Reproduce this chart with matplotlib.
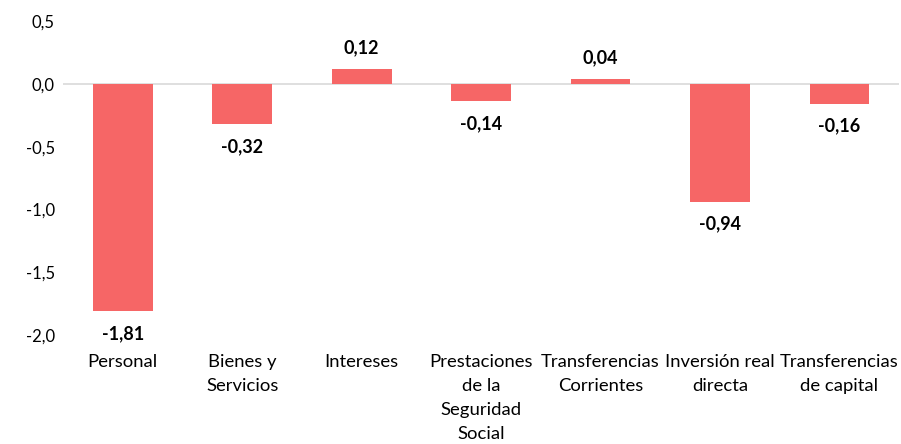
import matplotlib.pyplot as plt

categorias = ["Personal", "Bienes y\nServicios", "Intereses", "Prestaciones\nde la\nSeguridad\nSocial",
              "Transferencias\nCorrientes", "Inversión real\ndirecta", "Transferencias\nde capital"]
valores = [-1.81, -0.32, 0.12, -0.14, 0.04, -0.94, -0.16]
ticks_y = [0.5, 0.0, -0.5, -1.0, -1.5, -2.0]

plt.rcParams['font.family'] = ['Lato', 'DejaVu Sans']

fig = plt.figure(figsize=(9.01, 4.44), dpi=100)
ax = fig.add_axes([0.07, 0.2455, 0.928, 0.707])

x = range(len(categorias))
ax.bar(x, valores, width=0.5, color='#F66666', zorder=2)
ax.axhline(0, color='#D9D9D9', lw=1.2, zorder=1)

for i, v in zip(x, valores):
    txt = f"{v:.2f}".replace('.', ',')
    off = 15 if v >= 0 else -16
    ax.annotate(txt, (i, v), xytext=(0, off), textcoords='offset points',
                ha='center', va='center', fontsize=13, fontweight='bold')

ax.set_xlim(-0.5, len(categorias) - 0.5)
ax.set_ylim(-2.0, 0.5)
ax.set_yticks(ticks_y)
ax.set_yticklabels([f"{t:.1f}".replace('.', ',') for t in ticks_y], fontsize=12)
ax.set_xticks(list(x))
ax.set_xticklabels(categorias, fontsize=13.3, va='top', linespacing=1.6)
ax.tick_params(length=0)
ax.tick_params(axis='y', pad=6)
ax.tick_params(axis='x', pad=14)
for s in ax.spines.values():
    s.set_visible(False)

fig.savefig('out.png', dpi=100)
